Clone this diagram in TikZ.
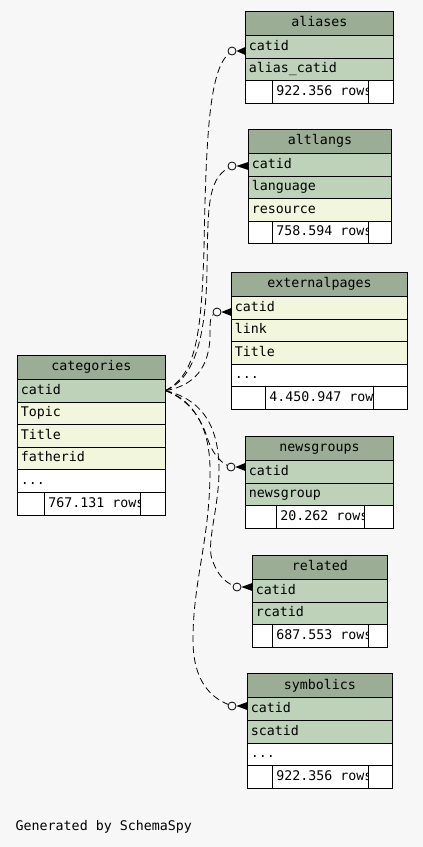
\documentclass[tikz,border=0pt]{standalone}
\usepackage{fontspec}
\setmonofont{DejaVu Sans Mono}
\usetikzlibrary{positioning}
\usetikzlibrary{calc}
\definecolor{bgcol}{HTML}{F7F7F7}
\definecolor{headcol}{HTML}{9CAD96}
\definecolor{keycol}{HTML}{BED2BA}
\definecolor{colcol}{HTML}{F2F6DC}
\newcommand\tfont{\fontsize{13.3}{15}\selectfont\ttfamily}
\newcommand\crow[2]{\fill ($(#2.west |- #1)+(0,-4)$) -- (#1.east) -- ($(#2.west |- #1)+(0,4)$) -- cycle;}

\begin{document}
\begin{tikzpicture}[x=1pt, y=-1pt,
    cell/.style={draw, line width=0.8pt, outer sep=0pt, inner xsep=3.5pt, inner ysep=0pt, minimum height=22.6pt, text height=10pt, text depth=3pt, font=\tfont},
    head/.style={cell, fill=headcol, minimum height=24pt, minimum width=#1, align=center},
    key/.style={cell, fill=keycol, text width=#1, align=left},
    col/.style={cell, fill=colcol, text width=#1, align=left},
    more/.style={cell, fill=white, text width=#1, align=left},
    blank/.style={cell, fill=white, minimum width=#1},
    count/.style 2 args={cell, fill=white, minimum width=#1, path picture={\node[draw=none, fill=none, inner sep=0pt, minimum width=0pt, minimum height=0pt, text height=10pt, text depth=3pt, font=\tfont, anchor=west] at ([xshift=4pt]path picture bounding box.west) {#2};}},
    fk/.style={line width=0.8pt, dash pattern=on 7pt off 4pt},
    ring/.style={circle, draw, solid, line width=0.8pt, fill=bgcol, inner sep=0pt, minimum size=8pt}]

    \fill[bgcol] (0,0) rectangle (423,847);

    %categories
    \node at (17.3,355.3) [head=148pt, anchor=north west] (cat) {categories};
    \node [key=141pt, below=0pt of cat] (cat_1) {catid};
    \node [col=141pt, below=0pt of cat_1] (cat_2) {Topic};
    \node [col=141pt, below=0pt of cat_2] (cat_3) {Title};
    \node [col=141pt, below=0pt of cat_3] (cat_4) {fatherid};
    \node [more=141pt, below=0pt of cat_4] (cat_5) {...};
    \node at (cat_5.south west) [blank=27pt, anchor=north west] (cat_a) {};
    \node [count={96.4pt}{767.131 rows}, right=0pt of cat_a] (cat_b) {};
    \node [blank=24.6pt, right=0pt of cat_b] (cat_c) {};

    %aliases
    \node at (245.3,11.3) [head=148pt, anchor=north west] (ali) {aliases};
    \node [key=141pt, below=0pt of ali] (ali_1) {catid};
    \node [key=141pt, below=0pt of ali_1] (ali_2) {alias\_catid};
    \node at (ali_2.south west) [blank=27pt, anchor=north west] (ali_a) {};
    \node [count={96.4pt}{922.356 rows}, right=0pt of ali_a] (ali_b) {};
    \node [blank=24.6pt, right=0pt of ali_b] (ali_c) {};

    %altlangs
    \node at (248.3,129.3) [head=143.4pt, anchor=north west] (alt) {altlangs};
    \node [key=136.4pt, below=0pt of alt] (alt_1) {catid};
    \node [key=136.4pt, below=0pt of alt_1] (alt_2) {language};
    \node [col=136.4pt, below=0pt of alt_2] (alt_3) {resource};
    \node at (alt_3.south west) [blank=24pt, anchor=north west] (alt_a) {};
    \node [count={96.4pt}{758.594 rows}, right=0pt of alt_a] (alt_b) {};
    \node [blank=23pt, right=0pt of alt_b] (alt_c) {};

    %externalpages
    \node at (231.3,272.3) [head=176.4pt, anchor=north west] (ext) {externalpages};
    \node [col=169.4pt, below=0pt of ext] (ext_1) {catid};
    \node [col=169.4pt, below=0pt of ext_1] (ext_2) {link};
    \node [col=169.4pt, below=0pt of ext_2] (ext_3) {Title};
    \node [more=169.4pt, below=0pt of ext_3] (ext_4) {...};
    \node at (ext_4.south west) [blank=34pt, anchor=north west] (ext_a) {};
    \node [count={108pt}{4.450.947 rows}, right=0pt of ext_a] (ext_b) {};
    \node [blank=34.4pt, right=0pt of ext_b] (ext_c) {};

    %newsgroups
    \node at (245.3,436.3) [head=148.4pt, anchor=north west] (news) {newsgroups};
    \node [key=141.4pt, below=0pt of news] (news_1) {catid};
    \node [key=141.4pt, below=0pt of news_1] (news_2) {newsgroup};
    \node at (news_2.south west) [blank=31pt, anchor=north west] (news_a) {};
    \node [count={88pt}{20.262 rows}, right=0pt of news_a] (news_b) {};
    \node [blank=29.4pt, right=0pt of news_b] (news_c) {};

    %related
    \node at (252.3,555.3) [head=135pt, anchor=north west] (rel) {related};
    \node [key=128pt, below=0pt of rel] (rel_1) {catid};
    \node [key=128pt, below=0pt of rel_1] (rel_2) {rcatid};
    \node at (rel_2.south west) [blank=20pt, anchor=north west] (rel_a) {};
    \node [count={96.4pt}{687.553 rows}, right=0pt of rel_a] (rel_b) {};
    \node [blank=18.6pt, right=0pt of rel_b] (rel_c) {};

    %symbolics
    \node at (247.3,673.7) [head=145pt, anchor=north west] (sym) {symbolics};
    \node [key=138pt, below=0pt of sym] (sym_1) {catid};
    \node [key=138pt, below=0pt of sym_1] (sym_2) {scatid};
    \node [more=138pt, below=0pt of sym_2] (sym_3) {...};
    \node at (sym_3.south west) [blank=25pt, anchor=north west] (sym_a) {};
    \node [count={96.4pt}{922.356 rows}, right=0pt of sym_a] (sym_b) {};
    \node [blank=23.6pt, right=0pt of sym_b] (sym_c) {};

    %foreign keys
    \node at (232,51) [ring] (o_ali) {};
    \node at (232,166) [ring] (o_alt) {};
    \node at (217,312) [ring] (o_ext) {};
    \node at (231,467) [ring] (o_news) {};
    \node at (237,587) [ring] (o_rel) {};
    \node at (232,706) [ring] (o_sym) {};

    \draw[fk] (cat_1.east) .. controls (195,375) and (201,340) .. (204,250) .. controls (206,130) and (210,70) .. (o_ali);
    \draw[fk] (cat_1.east) .. controls (197,378) and (206,330) .. (207,270) .. controls (208,210) and (207,180) .. (o_alt);
    \draw[fk] (cat_1.east) .. controls (200,385) and (211,360) .. (210,330) .. controls (210,320) and (211,316) .. (o_ext);
    \draw[fk] (cat_1.east) .. controls (190,400) and (202,420) .. (208,440) .. controls (212,452) and (220,462) .. (o_news);
    \draw[fk] (cat_1.east) .. controls (205,400) and (219,430) .. (219,470) .. controls (219,510) and (205,545) .. (213,562) .. controls (218,575) and (225,582) .. (o_rel);
    \draw[fk] (cat_1.east) .. controls (195,400) and (210,430) .. (210,470) .. controls (210,540) and (193,580) .. (193,640) .. controls (193,680) and (210,697) .. (o_sym);

    \crow{o_ali}{ali_1}
    \crow{o_alt}{alt_1}
    \crow{o_ext}{ext_1}
    \crow{o_news}{news_1}
    \crow{o_rel}{rel_1}
    \crow{o_sym}{sym_1}

    \node at (15.5,830) [anchor=base west, inner sep=0pt, font=\tfont] (gen) {Generated by SchemaSpy};
\end{tikzpicture}
\end{document}
